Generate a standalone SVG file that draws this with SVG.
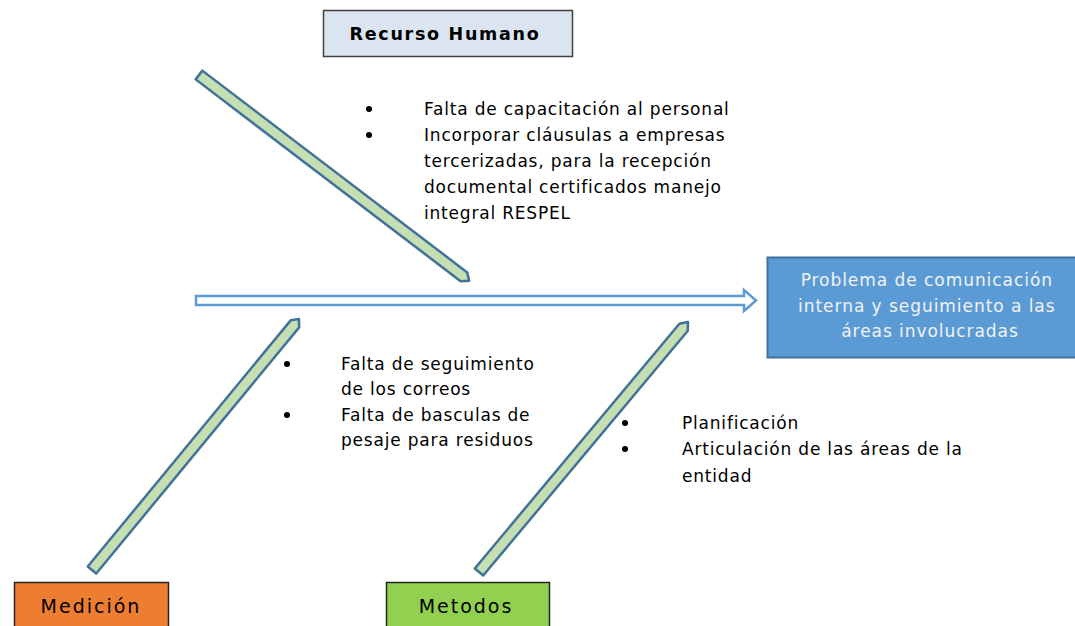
<svg xmlns="http://www.w3.org/2000/svg" width="1075" height="626" viewBox="0 0 1075 626">
<defs>
<style>
.t{font-family:"DejaVu Sans","Liberation Sans",sans-serif;font-size:17px;letter-spacing:0.8px;fill:#000}
.bone{fill:#c5dfb3;stroke:#41719c;stroke-width:2.5;stroke-linejoin:round}
.dot{fill:#000}
</style>
</defs>
<rect width="1075" height="626" fill="#fff"/>
<g id="connectors">
<polygon points="196,296 744,296 744,290 756,300.5 744,311 744,305 196,305" fill="#fff" stroke="#5b9bd5" stroke-width="2.5"/>
<polygon class="bone" transform="translate(199,75) rotate(37.3)" points="0,-5.5 333,-5.5 339.6,0 333,5.5 0,5.5"/>
<polygon class="bone" transform="translate(92,570) rotate(-50.5)" points="0,-5.5 319,-5.5 325.3,0 319,5.5 0,5.5"/>
<polygon class="bone" transform="translate(479,572) rotate(-50.1)" points="0,-5.5 319,-5.5 325.8,0 319,5.5 0,5.5"/>
</g>
<g id="recurso">
<rect x="323.5" y="10.5" width="249" height="46" fill="#dbe5f1" stroke="#404040" stroke-width="1.5"/>
<text x="445" y="40" text-anchor="middle" font-family="DejaVu Sans,sans-serif" font-weight="bold" font-size="17.5" letter-spacing="1.7" fill="#000">Recurso Humano</text>
</g>
<g id="problema">
<rect x="767.5" y="257.5" width="310" height="100" fill="#5b9bd5" stroke="#41719c" stroke-width="2"/>
<text text-anchor="middle" font-family="DejaVu Sans,sans-serif" font-size="17" letter-spacing="0.95" fill="#f2f2f2">
<tspan x="930" y="286">Problema de comunicación</tspan>
<tspan x="930" y="312">interna y seguimiento a las</tspan>
<tspan x="930" y="337">áreas involucradas</tspan>
</text>
</g>
<g id="medicion">
<rect x="14.5" y="582.5" width="154" height="50" fill="#ed7d31" stroke="#262626" stroke-width="1.5"/>
<text x="91" y="613" text-anchor="middle" font-family="DejaVu Sans,sans-serif" font-size="19" letter-spacing="2" fill="#000">Medición</text>
</g>
<g id="metodos">
<rect x="386.5" y="582.5" width="163" height="50" fill="#92d050" stroke="#262626" stroke-width="1.5"/>
<text x="466" y="613" text-anchor="middle" font-family="DejaVu Sans,sans-serif" font-size="19" letter-spacing="2" fill="#000">Metodos</text>
</g>
<g id="causas-recurso">
<circle class="dot" cx="369" cy="109" r="3"/>
<circle class="dot" cx="369" cy="135" r="3"/>
<text class="t"><tspan x="424" y="115">Falta de capacitación al personal</tspan><tspan x="424" y="141">Incorporar cláusulas a empresas</tspan><tspan x="424" y="167">tercerizadas, para la recepción</tspan><tspan x="424" y="193">documental certificados manejo</tspan><tspan x="424" y="219">integral RESPEL</tspan></text>
</g>
<g id="causas-medicion">
<circle class="dot" cx="287" cy="364" r="3"/>
<circle class="dot" cx="287" cy="415" r="3"/>
<text class="t"><tspan x="341" y="370">Falta de seguimiento</tspan><tspan x="341" y="395">de los correos</tspan><tspan x="341" y="421">Falta de basculas de</tspan><tspan x="341" y="446">pesaje para residuos</tspan></text>
</g>
<g id="causas-metodos">
<circle class="dot" cx="625" cy="423" r="3"/>
<circle class="dot" cx="625" cy="449" r="3"/>
<text class="t"><tspan x="682" y="429">Planificación</tspan><tspan x="682" y="455">Articulación de las áreas de la</tspan><tspan x="682" y="482">entidad</tspan></text>
</g>
</svg>
